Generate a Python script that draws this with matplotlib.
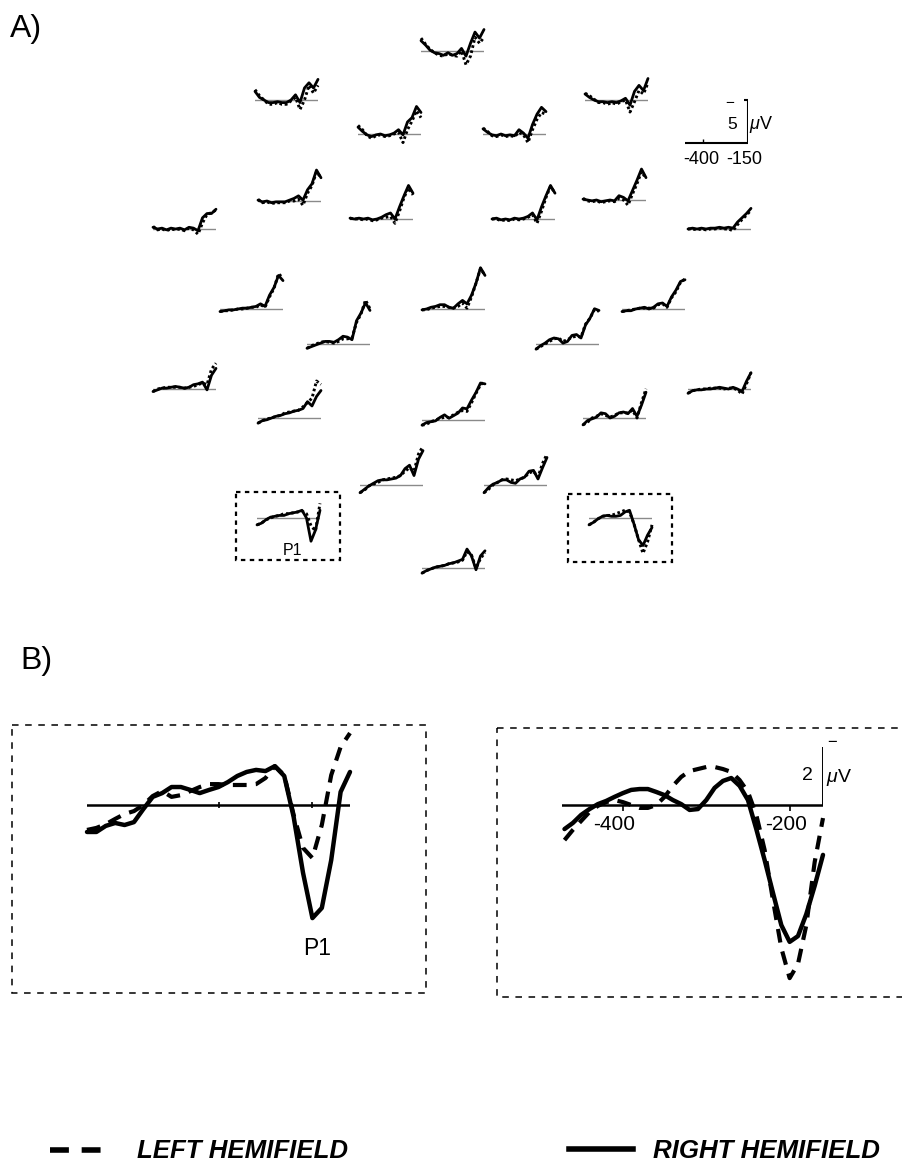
#!/usr/bin/env python3
"""Pre-saccadic ERP scalp maps and enlarged occipital traces, left vs right hemifield."""

import matplotlib

matplotlib.use("Agg")
import matplotlib.pyplot as plt
import numpy as np
from matplotlib.patches import Rectangle

plt.rcParams["font.family"] = ["Liberation Sans", "DejaVu Sans"]
plt.rcParams["mathtext.fontset"] = "custom"
plt.rcParams["mathtext.rm"] = "Liberation Sans"
plt.rcParams["mathtext.it"] = "Liberation Sans:italic"

# ---------------------------------------------------------------- data
# small scalp traces: 25 ms sampling, -500 .. -150 ms, values in uV
MAP_T = np.arange(-500, -149, 25)

fz_left = [-1.5, -0.8, -0.2, 0.2, 0.5, 0.6, 0.3, 0.5, 0.6, 0.0, 1.6, 0.6, -1.6, -0.9, -1.6]
fz_right = [-1.2, -0.7, -0.1, 0.2, 0.3, 0.5, 0.2, 0.5, 0.3, -0.3, 0.6, -0.9, -2.2, -1.5, -2.5]
f3_left = [-1.2, -0.5, 0.0, 0.5, 0.5, 0.3, 0.5, 0.5, 0.1, -0.3, 1.1, 0.0, -1.7, -0.8, -1.7]
f3_right = [-1.0, -0.3, 0.0, 0.3, 0.3, 0.2, 0.3, 0.3, 0.0, -0.6, 0.3, -1.4, -2.0, -1.4, -2.4]
f4_left = [-0.8, -0.5, -0.1, 0.3, 0.3, 0.5, 0.3, 0.5, 0.2, 0.0, 1.4, 0.2, -1.1, -0.7, -2.0]
f4_right = [-0.7, -0.3, 0.0, 0.2, 0.2, 0.3, 0.2, 0.3, 0.1, -0.2, 0.6, -1.0, -1.7, -1.1, -2.5]
fc1_left = [-1.0, -0.5, 0.2, 0.5, 0.2, 0.1, 0.3, 0.2, 0.0, -0.2, 1.0, -0.5, -1.5, -2.7, -1.9]
fc1_right = [-0.8, -0.3, 0.1, 0.3, 0.1, 0.0, 0.2, 0.1, -0.1, -0.5, 0.1, -1.4, -1.9, -3.2, -2.5]
fc2_left = [-0.7, -0.3, 0.2, 0.3, 0.1, 0.3, 0.2, 0.3, -0.2, 0.1, 1.0, -0.5, -1.7, -2.5, -2.3]
fc2_right = [-0.6, -0.2, 0.1, 0.2, 0.0, 0.2, 0.1, 0.2, -0.5, -0.1, 0.5, -1.1, -2.3, -3.1, -2.6]
c3_left = [-0.2, 0.2, 0.1, 0.3, 0.2, 0.2, 0.2, 0.0, 0.0, -0.2, 0.5, -0.9, -1.8, -3.4, -2.7]
c3_right = [-0.1, 0.1, 0.0, 0.2, 0.1, 0.1, 0.1, -0.1, -0.3, -0.6, -0.1, -1.3, -2.0, -3.6, -2.7]
c1_left = [-0.1, 0.0, 0.0, 0.1, 0.0, 0.2, 0.1, -0.1, -0.2, -0.3, 0.5, -0.9, -2.5, -3.6, -2.8]
c1_right = [-0.1, 0.0, -0.1, 0.0, -0.1, 0.1, 0.0, -0.2, -0.5, -0.7, 0.0, -1.4, -2.7, -3.9, -3.0]
c2_left = [0.0, 0.0, 0.2, 0.1, 0.2, 0.0, 0.1, 0.0, -0.2, -0.5, 0.5, -0.9, -2.5, -3.8, -3.0]
c2_right = [0.0, -0.1, 0.1, 0.0, 0.1, -0.1, 0.0, -0.1, -0.3, -0.7, 0.1, -1.4, -2.7, -3.9, -3.0]
c4_left = [-0.2, 0.1, 0.2, 0.1, 0.3, 0.2, 0.1, 0.2, -0.2, 0.0, 0.6, -0.7, -1.9, -3.3, -2.5]
c4_right = [-0.1, 0.0, 0.1, 0.0, 0.2, 0.1, 0.0, 0.1, -0.5, -0.3, 0.1, -1.1, -2.3, -3.6, -2.6]
t7_left = [-0.3, 0.1, 0.0, 0.2, 0.0, 0.1, 0.0, 0.2, -0.1, 0.1, 0.6, -0.7, -1.7, -1.9, -2.2]
t7_right = [-0.2, 0.0, -0.1, 0.1, -0.1, 0.0, -0.1, 0.1, -0.2, -0.1, 0.2, -1.3, -1.8, -1.8, -2.3]
t8_left = [0.0, 0.0, 0.1, 0.0, 0.1, 0.0, 0.0, -0.1, 0.0, 0.0, 0.2, -0.5, -1.1, -1.6, -2.2]
t8_right = [0.0, -0.1, 0.0, -0.1, 0.0, -0.1, -0.1, -0.2, -0.1, -0.2, -0.1, -0.8, -1.3, -1.8, -2.4]
cp3_left = [0.3, 0.2, 0.2, 0.1, 0.0, 0.0, -0.1, -0.2, -0.2, -0.5, -0.2, -1.4, -2.4, -4.1, -3.6]
cp3_right = [0.3, 0.2, 0.1, 0.1, 0.0, -0.1, -0.1, -0.2, -0.3, -0.6, -0.3, -1.6, -2.5, -3.9, -3.3]
cpz_left = [0.1, 0.1, -0.1, -0.2, -0.3, -0.3, -0.2, -0.1, -0.3, -0.7, -0.1, -1.4, -3.0, -4.7, -3.9]
cpz_right = [0.1, 0.0, -0.2, -0.3, -0.5, -0.5, -0.2, -0.1, -0.6, -1.0, -0.6, -1.6, -3.0, -4.8, -3.9]
cp4_left = [0.3, 0.2, 0.1, 0.0, -0.1, -0.1, -0.1, -0.1, -0.5, -0.6, -0.2, -1.3, -2.0, -3.1, -3.5]
cp4_right = [0.3, 0.2, 0.2, 0.0, -0.1, -0.2, 0.0, -0.2, -0.6, -0.7, -0.3, -1.4, -2.2, -3.2, -3.4]
p1_left = [0.5, 0.2, 0.0, -0.2, -0.3, -0.2, -0.1, -0.3, -0.6, -0.6, -0.7, -2.5, -3.5, -5.1, -4.1]
p1_right = [0.5, 0.3, 0.1, -0.1, -0.3, -0.3, -0.2, -0.5, -0.9, -0.8, -0.5, -2.7, -3.6, -4.8, -3.9]
p2_left = [0.6, 0.3, 0.0, -0.3, -0.6, -0.7, -0.3, -0.5, -0.8, -0.9, -0.8, -2.3, -3.0, -4.0, -3.8]
p2_right = [0.6, 0.2, -0.1, -0.5, -0.7, -0.6, -0.1, -0.3, -1.0, -1.1, -0.7, -2.2, -3.0, -4.1, -3.9]
p7_left = [0.3, 0.0, -0.1, -0.2, -0.2, -0.2, -0.2, -0.1, -0.2, -0.3, -0.5, -0.7, -0.5, -2.3, -3.0]
p7_right = [0.3, 0.1, -0.1, -0.1, -0.2, -0.3, -0.2, -0.1, -0.2, -0.5, -0.6, -0.8, 0.1, -1.6, -2.4]
p3_left = [0.6, 0.3, 0.1, 0.0, -0.2, -0.3, -0.6, -0.7, -0.8, -0.9, -1.3, -1.8, -2.3, -4.3, -3.9]
p3_right = [0.6, 0.3, 0.2, 0.0, -0.2, -0.3, -0.5, -0.6, -0.8, -0.9, -1.1, -1.9, -1.4, -2.5, -3.2]
pz_left = [0.6, 0.5, 0.2, 0.0, -0.2, -0.3, -0.3, -0.6, -0.9, -1.1, -1.0, -2.0, -3.1, -4.1, -4.5]
pz_right = [0.6, 0.3, 0.2, 0.1, -0.3, -0.6, -0.2, -0.5, -0.8, -1.4, -1.3, -2.3, -3.2, -4.3, -4.2]
p4_left = [0.8, 0.5, 0.0, -0.2, -0.5, -0.3, -0.1, -0.3, -0.6, -0.6, -0.6, -0.9, 0.0, -1.8, -3.4]
p4_right = [0.8, 0.3, 0.1, -0.1, -0.6, -0.5, 0.0, -0.2, -0.6, -0.7, -0.5, -1.1, -0.2, -1.5, -3.0]
p8_left = [0.5, 0.2, 0.1, 0.0, 0.0, -0.1, -0.1, -0.1, 0.0, -0.1, -0.1, 0.1, 0.6, -0.6, -1.9]
p8_right = [0.5, 0.2, 0.1, 0.1, 0.0, 0.0, -0.1, -0.2, -0.1, 0.0, -0.2, 0.0, 0.3, -0.9, -1.9]
po3_left = [0.9, 0.6, 0.1, -0.1, -0.3, -0.6, -0.7, -0.8, -0.9, -1.1, -1.6, -2.0, -1.6, -3.6, -4.5]
po3_right = [0.9, 0.5, 0.1, -0.2, -0.5, -0.6, -0.6, -0.7, -0.8, -1.1, -1.9, -2.3, -1.1, -3.0, -4.0]
po4_left = [0.9, 0.5, 0.0, -0.3, -0.6, -0.7, -0.6, -0.5, -0.7, -0.9, -1.4, -1.6, -0.9, -2.5, -3.6]
po4_right = [0.9, 0.3, -0.1, -0.3, -0.6, -0.6, -0.3, -0.2, -0.7, -0.9, -1.6, -1.7, -0.7, -2.0, -3.2]
o1_left = [0.8, 0.6, 0.2, 0.0, -0.2, -0.3, -0.5, -0.5, -0.6, -0.7, -0.8, -0.5, 0.9, 1.5, -1.7]
o1_right = [0.8, 0.6, 0.2, -0.1, -0.2, -0.3, -0.3, -0.5, -0.6, -0.7, -0.9, 0.0, 2.7, 1.4, -0.9]
o2_left = [0.8, 0.5, 0.1, -0.2, -0.3, -0.3, -0.5, -0.7, -0.9, -0.7, 0.7, 2.5, 4.1, 2.8, 0.8]
o2_right = [0.8, 0.5, 0.1, -0.2, -0.3, -0.2, -0.2, -0.3, -0.7, -0.9, 0.7, 2.5, 3.2, 2.0, 1.1]
oz_left = [0.6, 0.3, 0.1, -0.1, -0.2, -0.3, -0.5, -0.6, -0.7, -0.9, -1.9, -1.5, 0.0, -1.1, -1.8]
oz_right = [0.6, 0.3, 0.1, -0.1, -0.2, -0.3, -0.5, -0.6, -0.8, -1.0, -2.2, -1.4, 0.2, -1.4, -2.0]

# enlarged occipital traces, 10 ms sampling
O1_T = np.arange(-440, -159, 10)
o1_big_left = [0.86, 0.79, 0.66, 0.48, 0.31, 0.21, 0.0, -0.31, -0.48, -0.28, -0.34, -0.48, -0.62,
               -0.72, -0.72, -0.69, -0.69, -0.69, -0.72, -0.93, -1.34, -1.03, 0.34, 1.48, 1.83,
               0.69, -1.03, -2.0, -2.48]
o1_big_right = [0.93, 0.93, 0.72, 0.62, 0.69, 0.59, 0.14, -0.28, -0.41, -0.62, -0.62, -0.52, -0.41,
                -0.52, -0.62, -0.79, -1.0, -1.14, -1.21, -1.17, -1.34, -1.0, 0.41, 2.34, 3.9,
                3.55, 1.90, -0.45, -1.14]
O1_TICKS = [-300, -200]

O2_T = np.arange(-470, -159, 10)
o2_big_left = [1.21, 0.86, 0.55, 0.24, 0.03, -0.1, -0.17, -0.1, 0.0, 0.1, 0.1, 0.0, -0.28, -0.66,
               -0.97, -1.17, -1.24, -1.31, -1.31, -1.24, -1.14, -0.86, -0.45, 0.34, 1.55, 3.28,
               4.93, 5.97, 5.48, 4.14, 1.97, 0.45]
o2_big_right = [0.83, 0.62, 0.34, 0.14, -0.03, -0.14, -0.28, -0.41, -0.52, -0.55, -0.55, -0.45,
                -0.34, -0.17, -0.03, 0.17, 0.14, -0.17, -0.59, -0.83, -0.93, -0.66, -0.17, 0.83,
                1.9, 3.03, 4.14, 4.72, 4.52, 3.76, 2.79, 1.72]
O2_TICKS = [-400, -200]

SCALE_MS = (-500, -150)
SCALE_TICK = -400
SCALE_UV = 5
BIG_SCALE_UV = 2

SITES = [
    ("Fz", fz_left, fz_right), ("F3", f3_left, f3_right), ("F4", f4_left, f4_right),
    ("FC1", fc1_left, fc1_right), ("FC2", fc2_left, fc2_right),
    ("C3", c3_left, c3_right), ("C1", c1_left, c1_right), ("C2", c2_left, c2_right),
    ("C4", c4_left, c4_right), ("T7", t7_left, t7_right), ("T8", t8_left, t8_right),
    ("CP3", cp3_left, cp3_right), ("CPz", cpz_left, cpz_right), ("CP4", cp4_left, cp4_right),
    ("P1", p1_left, p1_right), ("P2", p2_left, p2_right),
    ("P7", p7_left, p7_right), ("P3", p3_left, p3_right), ("Pz", pz_left, pz_right),
    ("P4", p4_left, p4_right), ("P8", p8_left, p8_right),
    ("PO3", po3_left, po3_right), ("PO4", po4_left, po4_right),
    ("O1", o1_left, o1_right), ("O2", o2_left, o2_right), ("Oz", oz_left, oz_right),
]

# ---------------------------------------------------------------- layout (page pixels)
W, H = 902, 1161
# left end of trace, baseline height
SITE_POS = {
    "Fz": (421, 51), "F3": (255, 100), "F4": (585, 100), "FC1": (358, 134), "FC2": (483, 134),
    "C3": (258, 201), "C1": (350, 219), "C2": (492, 219), "C4": (583, 200),
    "T7": (153, 229), "T8": (688, 229), "CP3": (220, 309), "CPz": (422, 309), "CP4": (622, 309),
    "P1": (307, 344), "P2": (536, 344), "P7": (153, 389), "P3": (258, 418), "Pz": (422, 420),
    "P4": (583, 418), "P8": (688, 389), "PO3": (360, 485), "PO4": (484, 485),
    "O1": (257, 518), "O2": (589, 518), "Oz": (422, 568),
}
MAP_WIDTH = 63
MAP_PX_UV = 8.6
MAP_RANGE = 6.0
BIG_PX_UV = 29.0

DASH_SMALL = (0, (0.9, 0.9))
DASH_BIG = (0, (3.3, 2.2))


def page_axes(fig, left, top, width, height):
    ax = fig.add_axes([left / W, 1 - (top + height) / H, width / W, height / H])
    ax.set_axis_off()
    return ax


def site_axes(fig, x0, y0):
    half = MAP_RANGE * MAP_PX_UV
    ax = page_axes(fig, x0, y0 - half, MAP_WIDTH, 2 * half)
    ax.set_xlim(MAP_T[0], MAP_T[-1])
    ax.set_ylim(MAP_RANGE, -MAP_RANGE)  # negative up
    return ax


def big_axes(fig, left, right, baseline, t_lo, t_hi, uv_top, uv_bottom):
    top = baseline - uv_top * BIG_PX_UV
    ax = page_axes(fig, left, top, right - left, (uv_top + uv_bottom) * BIG_PX_UV)
    ax.set_xlim(t_lo, t_hi)
    ax.set_ylim(uv_bottom, -uv_top)
    return ax


def main():
    fig = plt.figure(figsize=(W / 100, H / 100), dpi=100)
    page = page_axes(fig, 0, 0, W, H)
    page.set_xlim(0, W)
    page.set_ylim(H, 0)

    page.text(10, 37, "A)", fontsize=23, va="baseline")
    page.text(20, 669, "B)", fontsize=23, va="baseline")

    # dotted frames round the occipital sites and the enlarged panels
    for x, y, w, h in [(236, 492, 104, 68), (568, 494, 104, 68)]:
        page.add_patch(Rectangle((x, y), w, h, fill=False, ec="k", lw=1.6, ls=(0, (2, 2))))
    for x, y, w, h in [(12, 725, 414, 268), (497, 728, 420, 269)]:
        page.add_patch(Rectangle((x, y), w, h, fill=False, ec="k", lw=1.1, ls=(0, (4.3, 4.3))))

    # small traces
    for name, left, right in SITES:
        ax = site_axes(fig, *SITE_POS[name])
        ax.axhline(0, color="#8a8a8a", lw=1.0)
        ax.plot(MAP_T, right, color="k", lw=2.0, solid_joinstyle="round",
                solid_capstyle="round", clip_on=False)
        ax.plot(MAP_T, left, color="k", lw=2.1, ls=DASH_SMALL, clip_on=False)
        if name == "O1":
            ax.text(-300, 4.3, "P1", fontsize=11.5, ha="center", va="baseline")

    # calibration bar
    ax = site_axes(fig, 685, 143)
    ax.hlines(0, SCALE_MS[0], SCALE_MS[1], color="k", lw=1.5)
    ax.vlines(SCALE_MS[1], -SCALE_UV, 0, color="k", lw=1.5)
    ax.hlines(-SCALE_UV, SCALE_MS[1] - 25, SCALE_MS[1], color="k", lw=1.5)
    ax.vlines(SCALE_TICK, -0.45, 0, color="k", lw=1.0)
    ax.text(-412, 2.5, "%d" % SCALE_TICK, fontsize=13, ha="center", va="baseline")
    ax.text(-170, 2.5, "%d" % SCALE_MS[1], fontsize=13, ha="center", va="baseline")
    ax.text(-240, -1.63, "%d" % SCALE_UV, fontsize=12.5, ha="center", va="baseline")
    ax.text(-144, -1.63, r"$\mu$V", fontsize=13, ha="left", va="baseline")
    ax.text(-250, -4.65, "\u2212", fontsize=11, ha="center", va="center")

    # enlarged O1
    ax = big_axes(fig, 87, 350, 805, O1_T[0], O1_T[-1], 4, 6)
    ax.axhline(0, color="k", lw=1.8)
    ax.vlines(O1_TICKS, -0.1, 0.1, color="k", lw=1.2)
    ax.plot(O1_T, o1_big_right, color="k", lw=3.2, solid_joinstyle="round",
            solid_capstyle="round", clip_on=False)
    ax.plot(O1_T, o1_big_left, color="k", lw=3.0, ls=DASH_BIG, clip_on=False)
    ax.text(-195, 5.17, "P1", fontsize=16.5, ha="center", va="baseline")

    # enlarged O2
    ax = big_axes(fig, 562, 823, 805, -473, -160, 3, 7)
    ax.axhline(0, color="k", lw=1.8)
    ax.vlines(O2_TICKS, 0, 0.2, color="k", lw=1.2)
    for t, x in zip(O2_TICKS, [-411, -204]):
        ax.text(x, 0.86, "%d" % t, fontsize=15, ha="center", va="baseline")
    ax.vlines(-160, -BIG_SCALE_UV, 0, color="k", lw=1.4)
    ax.text(-179, -0.86, "%d" % BIG_SCALE_UV, fontsize=14, ha="center", va="baseline")
    ax.text(-156, -0.8, r"$\mu$V", fontsize=14, ha="left", va="baseline")
    ax.text(-149, -2.14, "\u2212", fontsize=12, ha="center", va="center")
    ax.plot(O2_T, o2_big_right, color="k", lw=3.2, solid_joinstyle="round",
            solid_capstyle="round", clip_on=False)
    ax.plot(O2_T, o2_big_left, color="k", lw=3.0, ls=DASH_BIG, clip_on=False)

    # key
    key_font = dict(weight="bold", style="italic", fontsize=18.6, va="baseline")
    page.plot([50, 102], [1150, 1150], color="k", lw=4, ls=(0, (3.4, 2.3)))
    page.text(137, 1158, "LEFT HEMIFIELD", **key_font)
    page.plot([569, 633], [1149, 1149], color="k", lw=4)
    page.text(653, 1158, "RIGHT HEMIFIELD", **key_font)

    fig.savefig("out.png", dpi=100)
    plt.close(fig)


if __name__ == "__main__":
    main()
